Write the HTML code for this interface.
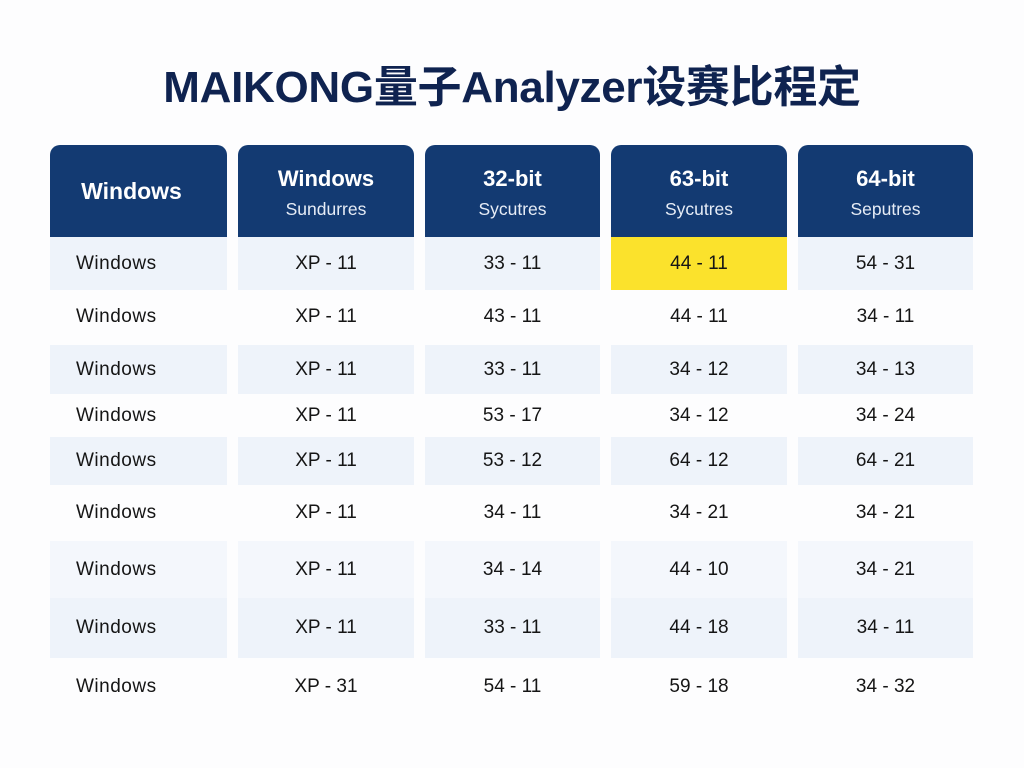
<!DOCTYPE html>
<html><head><meta charset="utf-8"><style>
body{margin:0;width:1024px;height:768px;background:#fdfdfe;position:relative;overflow:hidden;font-family:"Liberation Sans","Noto Sans CJK SC",sans-serif;}
.t{position:absolute;top:51px;left:0;width:1024px;text-align:center;font-size:44px;font-weight:bold;color:#0f2350;letter-spacing:-0.3px}
.h{position:absolute;top:145px;height:92px;background:#133a72;border-radius:10px 10px 0 0;color:#fff;text-align:center}
.h b{display:block;font-size:22px;margin-top:21px}
.h span{display:block;font-size:17.5px;margin-top:7px;color:#e6ecf6}
.c{position:absolute;font-size:19px;color:#151515;display:flex;align-items:center;justify-content:center}
.c.l{justify-content:flex-start;padding-left:26px;box-sizing:border-box;letter-spacing:0.5px}
</style></head><body>
<div class="t">MAIKONG量子Analyzer设赛比程定</div>
<div class="h" style="left:50px;width:177px"><b style="margin-top:33px;font-size:23px;padding-right:14px">Windows</b></div>
<div class="h" style="left:238px;width:176px"><b>Windows</b><span>Sundurres</span></div>
<div class="h" style="left:425px;width:175px"><b>32-bit</b><span>Sycutres</span></div>
<div class="h" style="left:611px;width:176px"><b>63-bit</b><span>Sycutres</span></div>
<div class="h" style="left:798px;width:175px"><b>64-bit</b><span>Seputres</span></div>
<div id="g"></div>
<script>
var cols=[[50,177],[238,176],[425,175],[611,176],[798,175]];
var rows=[[237,290,1],[290,343,0],[345,394,1],[394,437,0],[437,485,1],[485,541,0],[541,598,2],[598,658,1],[658,715,0]];
var d=[["XP - 11","33 - 11","44 - 11","54 - 31"],["XP - 11","43 - 11","44 - 11","34 - 11"],["XP - 11","33 - 11","34 - 12","34 - 13"],["XP - 11","53 - 17","34 - 12","34 - 24"],["XP - 11","53 - 12","64 - 12","64 - 21"],["XP - 11","34 - 11","34 - 21","34 - 21"],["XP - 11","34 - 14","44 - 10","34 - 21"],["XP - 11","33 - 11","44 - 18","34 - 11"],["XP - 31","54 - 11","59 - 18","34 - 32"]];
var h="";
rows.forEach(function(r,i){for(var j=0;j<5;j++){var bg=r[2]==1?"#eef3fa":(r[2]==2?"#f4f7fc":"transparent");if(i==0&&j==3)bg="#fbe22c";
var txt=j==0?"Windows":d[i][j-1];
h+='<div class="c'+(j==0?' l':'')+'" style="left:'+cols[j][0]+'px;width:'+cols[j][1]+'px;top:'+r[0]+'px;height:'+(r[1]-r[0])+'px;background:'+bg+'">'+txt+'</div>';}});
document.getElementById("g").innerHTML=h;
</script>
</body></html>
